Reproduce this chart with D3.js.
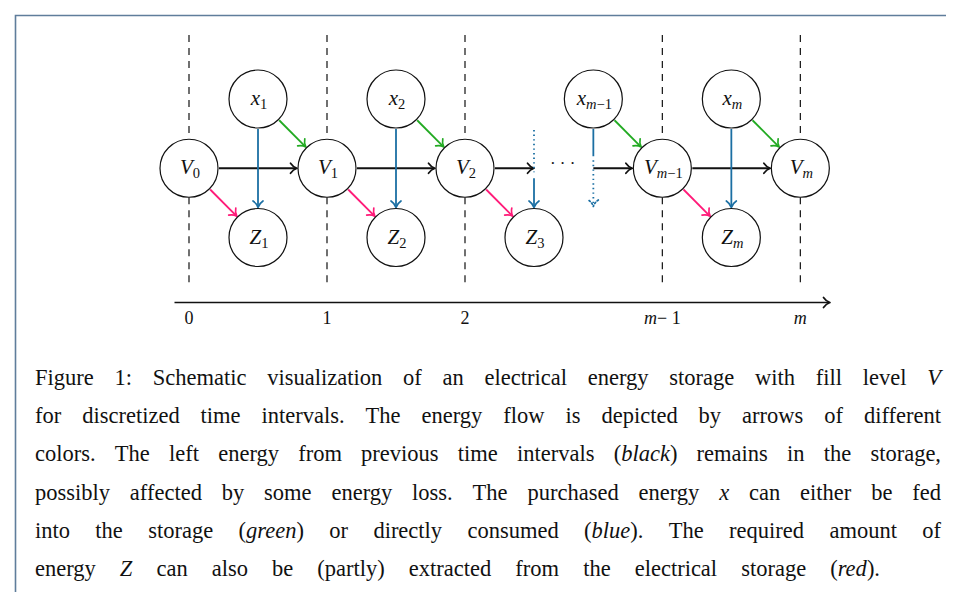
<!DOCTYPE html>
<html><head><meta charset="utf-8">
<script src="https://cdn.jsdelivr.net/npm/d3@7"></script>
</head><body>
<svg id="c" width="954" height="592"></svg>
<script>
// ---------- data ----------
const timeLabels = [[["0", 0]], [["1", 0]], [["2", 0]], [["m", 1], [" − 1", 0]], [["m", 1]]];
const timeValues = [0, 1, 2, 3.43, 4.43];
const vSubs = ["0", "1", "2", "m−1", "m"];          // V nodes at each time value
const xSubs = ["1", "2", "m−1", "m"];               // purchased energy nodes
const xTimes = [0.5, 1.5, 2.93, 3.93];
const zSubs = ["1", "2", "3", "m"];                 // demand nodes
const zTimes = [0.5, 1.5, 2.5, 3.93];
const blackEdges = [[0, 1], [1, 2], [3, 4]];        // V index -> V index
const greenEdges = [[0, 1], [1, 2], [2, 3], [3, 4]];// x index -> V index
const redEdges = [[0, 0], [1, 1], [2, 2], [3, 3]];  // V index -> Z index
const blueEdges = [[0, 0], [1, 1], [3, 3]];         // x index -> Z index (solid)
const captionLines = [
  [["Figure 1: Schematic visualization of an electrical energy storage with fill level ", 0], ["V", 1]],
  [["for discretized time intervals. The energy flow is depicted by arrows of different", 0]],
  [["colors. The left energy from previous time intervals (", 0], ["black", 1], [") remains in the storage,", 0]],
  [["possibly affected by some energy loss. The purchased energy ", 0], ["x", 1], [" can either be fed", 0]],
  [["into the storage (", 0], ["green", 1], [") or directly consumed (", 0], ["blue", 1], ["). The required amount of", 0]],
  [["energy ", 0], ["Z", 1], [" can also be (partly) extracted from the electrical storage (", 0], ["red", 1], [").", 0]]
];
const captionWidths = [906, 906, 906, 906, 906, 845];

// ---------- styles ----------
const COL = {black: "#111", green: "#22aa22", blue: "#1b6fa3", red: "#ff1a78"};
const R = 29;
const svg = d3.select("#c");

function mk(x, y, str, size, italic, anchor) {
  const t = svg.append("text").attr("x", x).attr("y", y)
    .style("font-family", '"Liberation Serif"').attr("font-size", size);
  if (italic) t.attr("font-style", "italic");
  if (anchor) t.attr("text-anchor", anchor);
  return t.attr("fill", "#111").text(str);
}
// place a run of [text, italic, size, dy] pieces starting at x
function run(x, y, pieces) {
  const els = pieces.map(([s, it, size, dy]) => mk(0, y + (dy || 0), s, size, it));
  const ws = els.map(e => e.node().getComputedTextLength());
  let cx = x;
  els.forEach((e, i) => { e.attr("x", cx); cx += ws[i]; });
  return {els, width: d3.sum(ws)};
}
function runCentered(cx, y, pieces) {
  const r = run(0, y, pieces);
  const x0 = cx - r.width / 2;
  let c = x0;
  r.els.forEach(e => { const w = e.node().getComputedTextLength(); e.attr("x", c); c += w; });
}

// border
svg.append("path").attr("d", "M7.5,592 V7.5 H954").attr("fill", "none")
  .attr("stroke", "#5f7d9b").attr("stroke-width", 1.6);

const xs = d3.scaleLinear().domain([0, 1]).range([181, 319]);
const ys = d3.scalePoint().domain(["x", "V", "Z"]).range([91, 229.5]);

const vN = vSubs.map((s, i) => ({sub: s, cx: xs(timeValues[i]), cy: ys("V"), base: "V"}));
const xN = xSubs.map((s, i) => ({sub: s, cx: xs(xTimes[i]), cy: ys("x"), base: "x"}));
const zN = zSubs.map((s, i) => ({sub: s, cx: xs(zTimes[i]), cy: ys("Z"), base: "Z"}));

// dashed time lines
timeValues.forEach(t => {
  const x = xs(t);
  [[27, ys("V") - R], [ys("V") + R, 280]].forEach(([a, b]) => {
    svg.append("line").attr("x1", x).attr("x2", x).attr("y1", a).attr("y2", b)
      .attr("stroke", "#111").attr("stroke-width", 1.2).attr("stroke-dasharray", "7,6");
  });
});

function head(tip, ang, color, dash) {
  svg.append("path").attr("d", "M-6.5,-5 C-4.5,-2 -1.8,-0.5 0,0 C-1.8,0.5 -4.5,2 -6.5,5")
    .attr("transform", `translate(${tip[0]},${tip[1]}) rotate(${ang * 180 / Math.PI})`)
    .attr("fill", "none").attr("stroke", color).attr("stroke-width", 1.7)
    .attr("stroke-linecap", "round").attr("stroke-linejoin", "round")
    .attr("stroke-dasharray", dash || null);
}
function seg(p, q, color, dash, w) {
  return svg.append("line").attr("x1", p[0]).attr("y1", p[1]).attr("x2", q[0]).attr("y2", q[1])
    .attr("stroke", color).attr("stroke-width", w || 1.8).attr("stroke-dasharray", dash || null);
}
function arrowBetween(a, b, color) {
  const dx = b.cx - a.cx, dy = b.cy - a.cy, L = Math.hypot(dx, dy);
  const ux = dx / L, uy = dy / L, g = 1;
  const p = [a.cx + ux * (R + g), a.cy + uy * (R + g)];
  const q = [b.cx - ux * (R + g), b.cy - uy * (R + g)];
  seg(p, [q[0] - ux, q[1] - uy], color);
  head(q, Math.atan2(dy, dx), color);
}

blackEdges.forEach(([i, j]) => arrowBetween(vN[i], vN[j], COL.black));
greenEdges.forEach(([i, j]) => arrowBetween(xN[i], vN[j], COL.green));
redEdges.forEach(([i, j]) => arrowBetween(vN[i], zN[j], COL.red));
blueEdges.forEach(([i, j]) => arrowBetween(xN[i], zN[j], COL.blue));

// open-ended pieces around the ellipsis
const DOT = "1.4,3.2";
const v2 = vN[2], vm1 = vN[3], z3 = zN[2], xm1 = xN[2];
seg([v2.cx + R + 1, v2.cy], [z3.cx - 1, v2.cy], COL.black);
head([z3.cx, v2.cy], 0, COL.black);
mk((z3.cx + xm1.cx) / 2 - 1, v2.cy + 1, "· · ·", 17, false, "middle");
seg([xm1.cx, v2.cy], [vm1.cx - R - 2, v2.cy], COL.black);
head([vm1.cx - R - 1, v2.cy], 0, COL.black);
seg([z3.cx, ys("x") + R + 2], [z3.cx, v2.cy + 4], COL.blue, DOT);
seg([z3.cx, v2.cy + 10], [z3.cx, z3.cy - R - 2], COL.blue);
head([z3.cx, z3.cy - R - 1], Math.PI / 2, COL.blue);
seg([xm1.cx, xm1.cy + R + 1], [xm1.cx, v2.cy - 12], COL.blue);
seg([xm1.cx, v2.cy - 8], [xm1.cx, z3.cy - R - 3], COL.blue, DOT);
head([xm1.cx, z3.cy - R - 2], Math.PI / 2, COL.blue, "1.4,2.2");

// nodes
const allNodes = vN.concat(xN, zN);
allNodes.forEach(d => {
  svg.append("circle").attr("cx", d.cx).attr("cy", d.cy).attr("r", R)
    .attr("fill", "#fff").attr("stroke", "#111").attr("stroke-width", 1.2);
});
allNodes.forEach(d => {
  const pieces = [[d.base, 1, 21, 0]];
  d.sub.match(/m|[^m]+/g).forEach(p => pieces.push([p, p === "m" ? 1 : 0, 14.5, 4]));
  runCentered(d.cx + 1, d.cy + 6, pieces);
});

// time axis
const axY = 294.5;
seg([166.5, axY], [821, axY], "#111", null, 1.3);
head([822, axY], 0, "#111");
timeLabels.forEach((lab, i) => {
  runCentered(xs(timeValues[i]), 316, lab.map(([s, it]) => [s, it, 18, 0]));
});

// caption: words placed one by one and justified
const capX = 27, base0 = 377, lineH = 38.2, fs = 22.5;
captionLines.forEach((segs, li) => {
  const words = [];
  let cur = [];
  segs.forEach(([s, it]) => {
    s.split(" ").forEach((p, k) => {
      if (k > 0) { if (cur.length) words.push(cur); cur = []; }
      if (p.length) cur.push([p, it]);
    });
  });
  if (cur.length) words.push(cur);
  const y = base0 + li * lineH;
  const placed = words.map(w => run(0, y, w.map(([s, it]) => [s, it, fs, 0])));
  const total = d3.sum(placed, p => p.width);
  const gap = (captionWidths[li] - total) / (words.length - 1);
  let x = capX;
  placed.forEach(p => {
    let c = x;
    p.els.forEach(e => { const w = e.node().getComputedTextLength(); e.attr("x", c); c += w; });
    x += p.width + gap;
  });
});
</script>
</body></html>
